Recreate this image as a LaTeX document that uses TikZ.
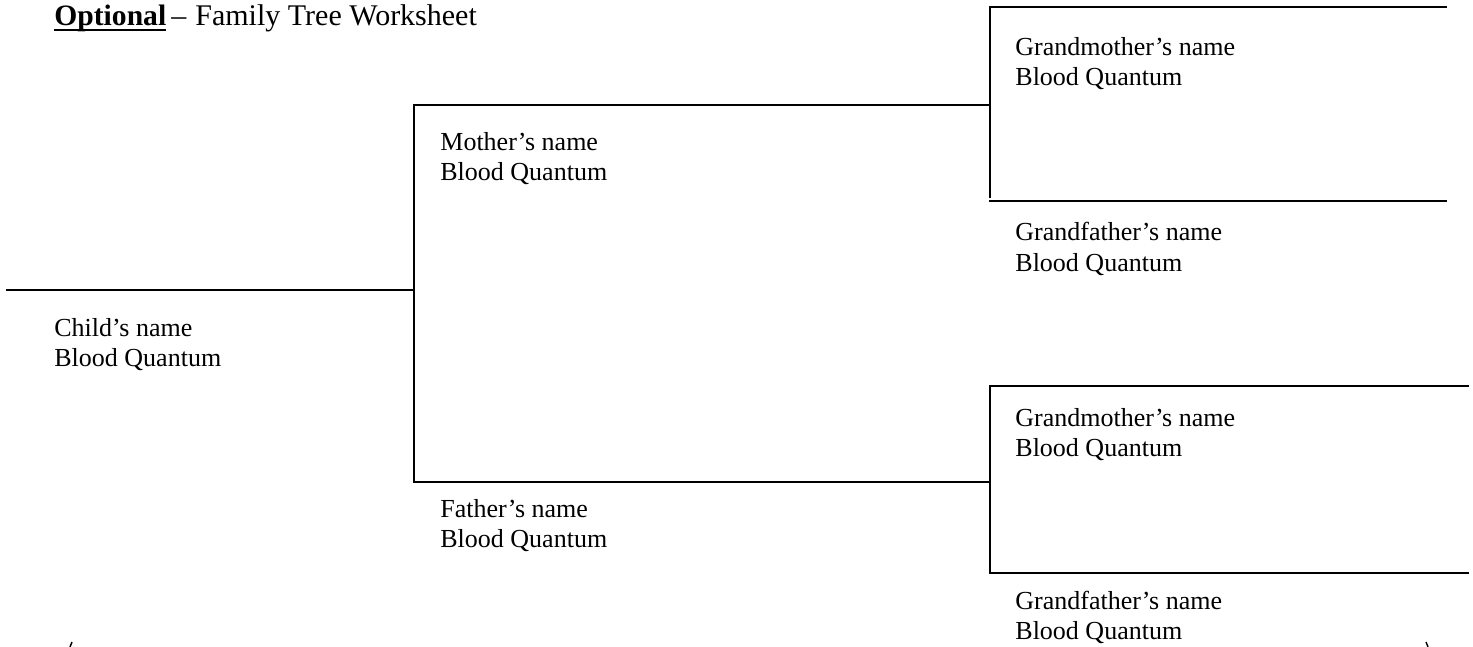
\documentclass[tikz,border=0pt]{standalone}
\usepackage{fontspec}
\setmainfont{Liberation Serif}
\begin{document}
\begin{tikzpicture}[x=0.5pt,y=-0.5pt,
  treeline/.style={line width=1pt,line cap=rect},
  lbl/.style={anchor=base west,inner sep=0pt,font=\fontsize{13pt}{15pt}\selectfont},
  ttl/.style={lbl,font=\fontsize{15pt}{18pt}\selectfont}]
\useasboundingbox (0,0) rectangle (1473,647);
% title
\node[ttl,font=\fontsize{14.8pt}{18pt}\selectfont] (opt) at (54,26) {\bfseries\setbox0\hbox{Optional}\rlap{\rule[-2.6pt]{\wd0}{1pt}}\box0};
\node[ttl] (dash) at (171,26) {--};
\node[ttl] (title) at (195,26) {Family Tree Worksheet};
% coordinates of the tree
\coordinate (cL) at (7,290);
\coordinate (cJ) at (414,290);
\coordinate (mJ) at (414,105);
\coordinate (fJ) at (414,482);
\coordinate (mE) at (990,105);
\coordinate (fE) at (990,482);
\coordinate (u1) at (990,7);
\coordinate (u2) at (990,197);
\coordinate (ut) at (1446,7);
\coordinate (ubL) at (990,201);
\coordinate (ub) at (1446,201);
\coordinate (l1) at (990,386);
\coordinate (l2) at (990,573);
\coordinate (lt) at (1468,386);
\coordinate (lbL) at (990,573);
\coordinate (lb) at (1468,573);
% lines
\draw[treeline] (cL) -- (cJ);
\draw[treeline] (mJ) -- (fJ);
\draw[treeline] (mJ) -- (mE);
\draw[treeline] (fJ) -- (fE);
\draw[treeline] (u1) -- (u2);
\draw[treeline] (u1) -- (ut);
\draw[treeline] (ubL) -- (ub);
\draw[treeline] (l1) -- (l2);
\draw[treeline] (l1) -- (lt);
\draw[treeline] (lbL) -- (lb);
% labels
\node[lbl] (gm1) at (1015,56) {Grandmother’s name};
\node[lbl] (gm1q) at (1015,86) {Blood Quantum};
\node[lbl] (mo) at (440,150) {Mother’s name};
\node[lbl] (moq) at (440,180) {Blood Quantum};
\node[lbl] (gf1) at (1015,241) {Grandfather’s name};
\node[lbl] (gf1q) at (1015,271) {Blood Quantum};
\node[lbl] (ch) at (54,336) {Child’s name};
\node[lbl] (chq) at (54,366) {Blood Quantum};
\node[lbl] (gm2) at (1015,426) {Grandmother’s name};
\node[lbl] (gm2q) at (1015,456) {Blood Quantum};
\node[lbl] (fa) at (440,517) {Father’s name};
\node[lbl] (faq) at (440,547) {Blood Quantum};
\node[lbl] (gf2) at (1015,609) {Grandfather’s name};
\node[lbl] (gf2q) at (1015,639) {Blood Quantum};
% tiny marks at the bottom edge
\draw[line width=0.7pt] (72,642) .. controls (71,644) .. (70,647);
\draw[line width=0.7pt] (1426,642) .. controls (1427,644) .. (1428,647);
\end{tikzpicture}
\end{document}
